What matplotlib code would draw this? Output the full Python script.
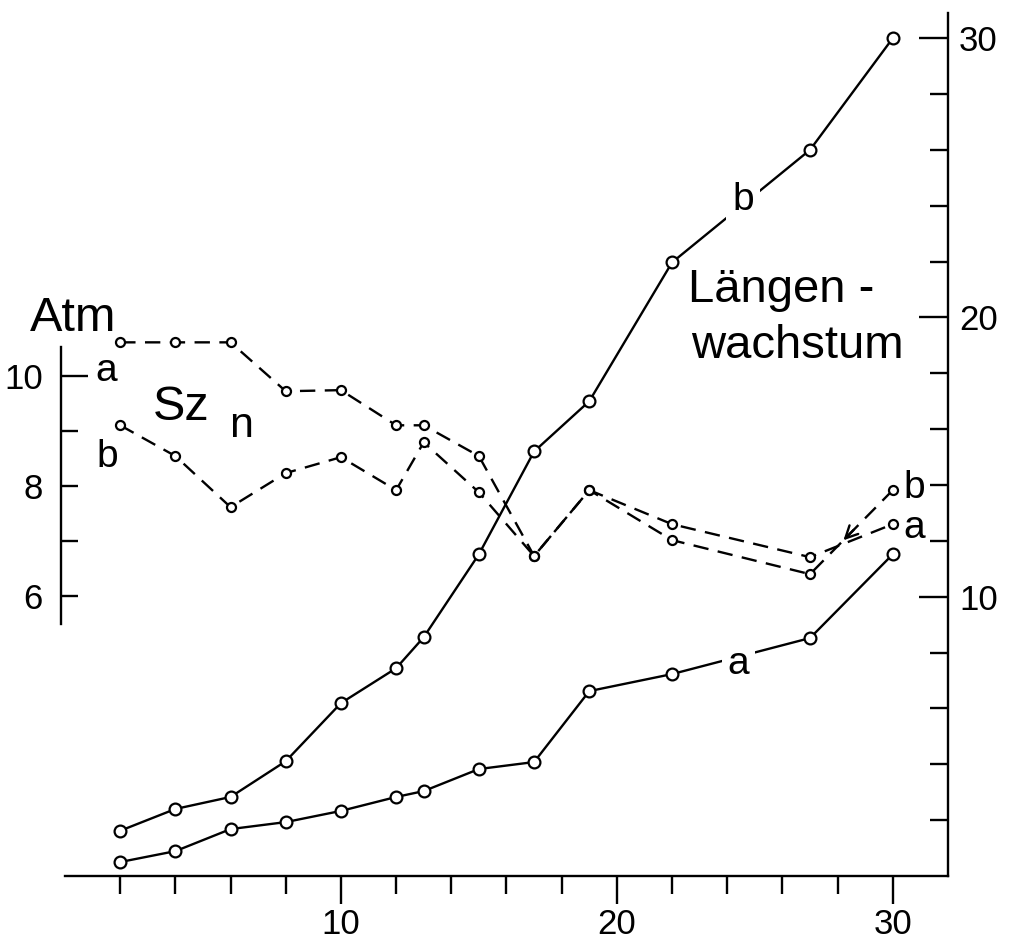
import matplotlib.pyplot as plt

plt.rcParams['font.family'] = ['Liberation Sans', 'DejaVu Sans']

# Tage
tage = [2, 4, 6, 8, 10, 12, 13, 15, 17, 19, 22, 27, 30]
# Laengenwachstum (rechte Achse)
laenge_a = [0.50, 0.89, 1.68, 1.93, 2.33, 2.83, 3.04, 3.83, 4.08, 6.62, 7.23, 8.52, 11.52]
laenge_b = [1.62, 2.40, 2.83, 4.11, 6.19, 7.44, 8.55, 11.52, 15.2, 17.0, 21.97, 26.0, 30.0]
# Saugkraft Sz_n in Atm (linke Achse)
szn_a = [10.62, 10.62, 10.62, 9.73, 9.75, 9.11, 9.11, 8.55, 6.73, 7.93, 7.31, 6.71, 7.31]
szn_b = [9.11, 8.55, 7.62, 8.24, 8.53, 7.93, 8.80, 7.89, 6.73, 7.93, 7.02, 6.40, 7.93]

W, H = 1012, 940
def px(x, y):
    return x / W, 1 - y / H

fig = plt.figure(figsize=(W / 100, H / 100), dpi=100)
ax = fig.add_axes([65 / W, 64 / H, 883 / W, 863 / H])
ax.set_xlim(0, 32)
ax.set_ylim(0, 30.9)

# Atm axis on the left (twinx moves ax ticks, so set ax ticks afterwards)
ax2 = ax.twinx()
ax2.set_ylim(0.906, 16.615)

lw = 1.7
# solid curves
for vals in (laenge_a, laenge_b):
    ax.plot(tage, vals, '-', color='k', lw=lw, marker='o', ms=8.5,
            mfc='white', mec='k', mew=1.6, zorder=3)

ax.spines['top'].set_visible(False)
ax.spines['left'].set_visible(False)
ax.spines['bottom'].set_linewidth(lw)
ax.spines['right'].set_linewidth(lw)

ax.set_xticks([10, 20, 30])
ax.set_xticks([2, 4, 6, 8, 12, 14, 16, 18, 22, 24, 26, 28], minor=True)
ax.tick_params(axis='x', which='major', direction='out', length=20, width=lw, pad=3, labelsize=25)
ax.tick_params(axis='x', which='minor', direction='out', length=13, width=lw)

ax.set_yticks([10, 20, 30])
ax.set_yticks([2, 4, 6, 8, 12, 14, 16, 18, 22, 24, 26, 28], minor=True)
ax.tick_params(axis='y', which='both', left=False, labelleft=False, right=True, labelright=True)
ax.tick_params(axis='y', which='major', direction='in', length=21, width=lw, pad=8, labelsize=25)
ax.tick_params(axis='y', which='minor', direction='in', length=13, width=lw)

for s in ('top', 'right', 'bottom'):
    ax2.spines[s].set_visible(False)
ax2.spines['left'].set_visible(True)
ax2.spines['left'].set_position(('axes', -4 / 883))
ax2.spines['left'].set_bounds(5.49, 10.53)
ax2.spines['left'].set_linewidth(lw)
ax2.set_yticks([10])
ax2.set_yticklabels(['10'])
ax2.set_yticks([6, 7, 8, 9], minor=True)
ax2.set_yticklabels(['6', '', '8', ''], minor=True)
ax2.tick_params(axis='y', which='both', direction='in', width=lw, pad=13, labelsize=25,
                left=True, right=False, labelleft=True, labelright=False)
ax2.tick_params(axis='y', which='major', length=19.5)
ax2.tick_params(axis='y', which='minor', length=12)

dash = (0, (6.5, 4))
for vals in (szn_a, szn_b):
    ax2.plot(tage, vals, color='k', lw=lw, ls=dash, marker='o', ms=6.5,
             mfc='white', mec='k', mew=1.6, zorder=3)

# arrow on b between 27 and 30
x0, y0 = tage[-2], szn_b[-2]
x1, y1 = tage[-1], szn_b[-1]
tip = (x0 + 0.38 * (x1 - x0), y0 + 0.38 * (y1 - y0))
tail = (x0 + 0.55 * (x1 - x0), y0 + 0.55 * (y1 - y0))
ax2.annotate('', xy=tip, xytext=tail,
             arrowprops=dict(arrowstyle='->', lw=lw, color='k', mutation_scale=22))

# texts
fs = 28
fig.text(*px(30, 331), 'Atm', fontsize=35, ha='left', va='baseline')
fig.text(*px(95, 381), 'a', fontsize=fs, ha='left', va='baseline')
fig.text(*px(96, 467), 'b', fontsize=fs, ha='left', va='baseline')
fig.text(*px(153, 420), 'Sz', fontsize=35, ha='left', va='baseline')
fig.text(*px(229, 437), 'n', fontsize=31, ha='left', va='baseline')
fig.text(*px(688, 302), 'Längen -', fontsize=34, ha='left', va='baseline')
fig.text(*px(691, 358), 'wachstum', fontsize=34, ha='left', va='baseline')
fig.text(*px(903, 498), 'b', fontsize=fs, ha='left', va='baseline')
fig.text(*px(903, 538), 'a', fontsize=fs, ha='left', va='baseline')

box = dict(boxstyle='square,pad=0.15', fc='white', ec='none')
ax.text(24.57, 24.2, 'b', fontsize=fs, ha='center', va='center', bbox=box, zorder=4)
ax.text(24.4, 7.6, 'a', fontsize=fs, ha='center', va='center', bbox=box, zorder=4)

fig.savefig('out.png', dpi=100, facecolor='white')
